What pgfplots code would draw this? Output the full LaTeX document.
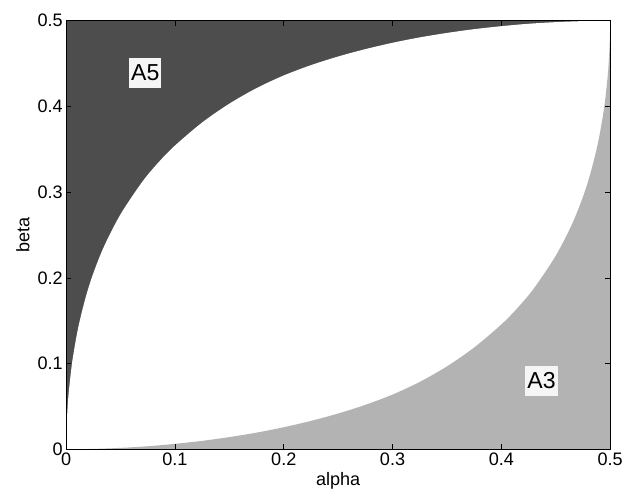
\documentclass[border=0pt]{standalone}
\usepackage{fontspec}
\setmainfont{Liberation Sans}
\usepackage{pgfplots}
\pgfplotsset{compat=1.18}
\definecolor{darkreg}{HTML}{4D4D4D}
\definecolor{lightreg}{HTML}{B3B3B3}
\begin{document}
\begin{tikzpicture}
\begin{axis}[
    scale only axis,
    width=542pt, height=427pt,
    xmin=0, xmax=0.5, ymin=0, ymax=0.5,
    xtick={0,0.1,...,0.5}, ytick={0,0.1,...,0.5},
    tick align=inside, tick pos=both,
    major tick length=5pt,
    axis on top,
    axis line style={line width=1pt},
    every tick/.style={black, line width=0.6pt},
    tick label style={font=\fontsize{18}{18}\selectfont},
    /pgf/number format/assume math mode=true,
    /pgf/number format/fixed,
    xlabel={alpha}, ylabel={beta},
    label style={font=\fontsize{18}{18}\selectfont},
    ylabel style={yshift=1pt},
]
% A5 background: whole square
\addplot[fill=darkreg, draw=none] coordinates {(0,0.5) (0.5,0.5)} \closedcycle;
% white area below the upper curve
\addplot[fill=white, draw=none, smooth, tension=0.5] coordinates {
    (0,0) (0.00002,0.0056) (0.0001,0.0131) (0.0005,0.0303) (0.002,0.0616)
    (0.0055,0.1017) (0.011,0.1417) (0.018,0.1777) (0.025,0.2056)
    (0.035,0.2373) (0.05,0.2743) (0.07,0.3122) (0.085,0.335) (0.1,0.3544)
    (0.125,0.3813) (0.15,0.4033) (0.175,0.4214) (0.2,0.4362) (0.225,0.4482)
    (0.25,0.4583) (0.275,0.4669) (0.3,0.4743) (0.325,0.4806) (0.35,0.4858)
    (0.375,0.4902) (0.4,0.4937) (0.425,0.4965) (0.45,0.4984) (0.475,0.4996)
    (0.5,0.5)
} \closedcycle;
% A3 area below the lower curve
\addplot[fill=lightreg, draw=none, smooth, tension=0.5] coordinates {
    (0,0) (0.025,0.0004) (0.05,0.0016) (0.075,0.0035) (0.1,0.0063)
    (0.125,0.0098) (0.15,0.0142) (0.175,0.0194) (0.2,0.0257) (0.225,0.0331)
    (0.25,0.0417) (0.275,0.0518) (0.3,0.0638) (0.325,0.0786) (0.35,0.0967)
    (0.375,0.1187) (0.4,0.1456) (0.415,0.165) (0.43,0.1878) (0.45,0.2257)
    (0.465,0.2627) (0.475,0.2944) (0.482,0.3223) (0.489,0.3583)
    (0.4945,0.3983) (0.498,0.4384) (0.4995,0.4697) (0.4999,0.4869)
    (0.49998,0.4944) (0.5,0.5)
} \closedcycle;
\node[fill=white!96!black, inner xsep=2pt, inner ysep=6.5pt,
      font=\fontsize{23}{23}\selectfont] at (axis cs:0.0727,0.439) {A5};
\node[fill=white!96!black, inner xsep=2pt, inner ysep=6.5pt,
      font=\fontsize{23}{23}\selectfont] at (axis cs:0.437,0.0797) {A3};
\end{axis}
% white margins as in the reference figure
\path (current bounding box.north west) ++(-13pt,11pt);
\path (current bounding box.south east) ++(0,-7pt);
\end{tikzpicture}
\end{document}
